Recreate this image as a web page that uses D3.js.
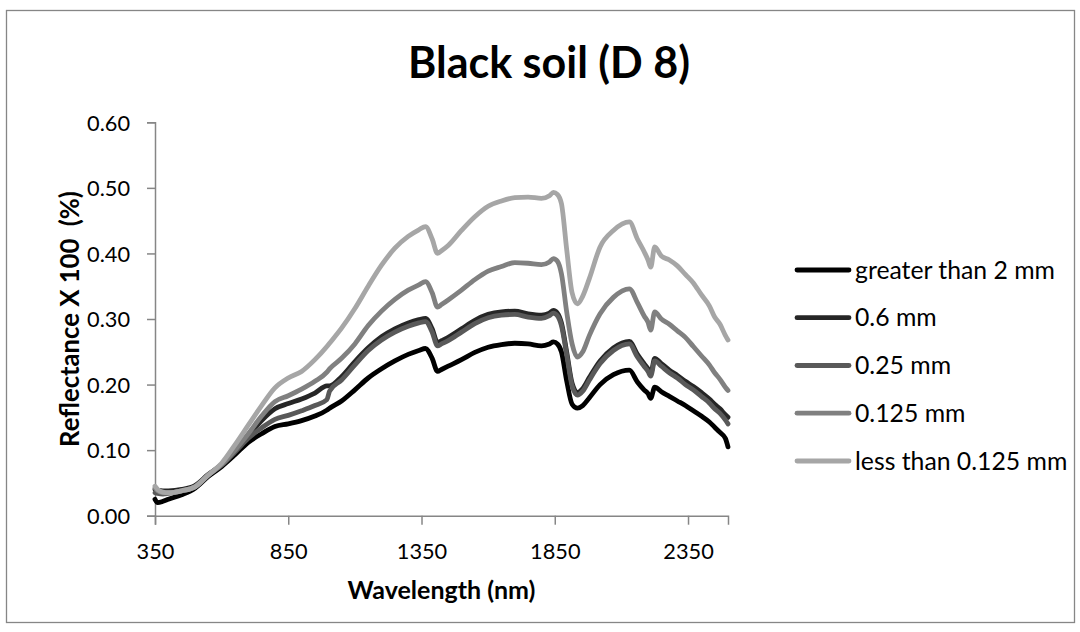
<!DOCTYPE html>
<html>
<head>
<meta charset="utf-8">
<script src="https://cdn.jsdelivr.net/npm/d3@7"></script>
<style>
  html, body { margin: 0; padding: 0; background: #fff; }
  svg { display: block; }
  text { font-family: Lato, "Open Sans", "Liberation Sans", sans-serif; fill: #000; }
</style>
</head>
<body>
<svg id="chart" width="1080" height="632"></svg>
<script>
// ---------- data ----------
const chartTitle = "Black soil (D 8)";
const xTitle = "Wavelength (nm)";
const yTitle = "Reflectance X 100  (%)";
const xTicks = [350, 850, 1350, 1850, 2350];
const yTicks = [0, 0.1, 0.2, 0.3, 0.4, 0.5, 0.6];
const seriesNames = ["greater than 2 mm", "0.6 mm", "0.25 mm", "0.125 mm", "less than 0.125 mm"];
const seriesColors = ["#000000", "#262626", "#595959", "#808080", "#a6a6a6"];

const wavelengths = [
  350, 360, 380, 400, 450,
  500, 550, 600, 650, 700,
  750, 800, 850, 900, 950,
  995, 1005, 1050, 1100, 1150,
  1200, 1250, 1300, 1340, 1365,
  1390, 1410, 1425, 1450, 1500,
  1550, 1600, 1650, 1700, 1750,
  1800, 1830, 1845, 1860, 1875,
  1895, 1915, 1935, 1955, 1980,
  2020, 2070, 2130, 2160, 2185,
  2200, 2210, 2225, 2250, 2280,
  2310, 2340, 2370, 2400, 2430,
  2450, 2470, 2490, 2500
];

const greaterThan2mm = [
  0.025, 0.020, 0.022, 0.025, 0.032,
  0.042, 0.060, 0.075, 0.093, 0.112,
  0.125, 0.136, 0.140, 0.145, 0.152,
  0.161, 0.164, 0.175, 0.192, 0.210,
  0.224, 0.236, 0.246, 0.252, 0.255,
  0.240, 0.220, 0.223, 0.228, 0.238,
  0.249, 0.257, 0.261, 0.263, 0.262,
  0.259, 0.262, 0.265, 0.262, 0.250,
  0.205, 0.170, 0.164, 0.168, 0.180,
  0.200, 0.215, 0.222, 0.204, 0.192,
  0.186, 0.179, 0.196, 0.189, 0.182,
  0.175, 0.168, 0.160, 0.152, 0.143,
  0.135, 0.127, 0.118, 0.105
];

const mm06 = [
  0.040, 0.039, 0.038, 0.038, 0.040,
  0.046, 0.063, 0.078, 0.099, 0.122,
  0.145, 0.163, 0.171, 0.178, 0.187,
  0.198, 0.198, 0.212, 0.235, 0.256,
  0.273, 0.285, 0.294, 0.299, 0.301,
  0.285, 0.264, 0.267, 0.272, 0.285,
  0.298, 0.307, 0.311, 0.312, 0.308,
  0.306, 0.309, 0.313, 0.309, 0.294,
  0.249, 0.202, 0.188, 0.194, 0.211,
  0.236, 0.256, 0.266, 0.246, 0.232,
  0.224, 0.217, 0.240, 0.232, 0.222,
  0.214, 0.205, 0.197, 0.188, 0.178,
  0.170, 0.163, 0.154, 0.150
];

const mm025 = [
  0.035, 0.034, 0.033, 0.034, 0.038,
  0.044, 0.062, 0.077, 0.097, 0.118,
  0.134, 0.147, 0.153, 0.160, 0.168,
  0.177, 0.190, 0.207, 0.230, 0.252,
  0.268, 0.280, 0.289, 0.294, 0.296,
  0.280, 0.259, 0.262, 0.267, 0.280,
  0.293, 0.302, 0.306, 0.307, 0.303,
  0.301, 0.305, 0.309, 0.305, 0.290,
  0.245, 0.198, 0.184, 0.190, 0.207,
  0.232, 0.252, 0.262, 0.242, 0.228,
  0.220, 0.213, 0.236, 0.228, 0.218,
  0.210, 0.200, 0.192, 0.182, 0.172,
  0.163, 0.156, 0.146, 0.140
];

const mm0125 = [
  0.042, 0.038, 0.035, 0.035, 0.038,
  0.044, 0.062, 0.078, 0.100, 0.125,
  0.152, 0.174, 0.183, 0.193, 0.205,
  0.219, 0.224, 0.240, 0.262, 0.290,
  0.312, 0.330, 0.344, 0.352, 0.357,
  0.340, 0.318, 0.322, 0.329, 0.344,
  0.360, 0.373, 0.380, 0.386, 0.385,
  0.383, 0.387, 0.392, 0.388, 0.369,
  0.310, 0.262, 0.242, 0.250, 0.275,
  0.308, 0.333, 0.346, 0.325, 0.305,
  0.295, 0.283, 0.311, 0.300, 0.292,
  0.282, 0.272, 0.258, 0.244, 0.230,
  0.218, 0.208, 0.196, 0.191
];

const lessThan0125 = [
  0.045, 0.040, 0.036, 0.035, 0.038,
  0.044, 0.062, 0.080, 0.108, 0.138,
  0.168, 0.195, 0.210, 0.220, 0.238,
  0.258, 0.263, 0.286, 0.316, 0.350,
  0.382, 0.408, 0.426, 0.436, 0.441,
  0.422, 0.400, 0.404, 0.412, 0.435,
  0.456, 0.472, 0.480, 0.485, 0.486,
  0.484, 0.488, 0.493, 0.490, 0.476,
  0.405, 0.340, 0.323, 0.335, 0.362,
  0.410, 0.435, 0.448, 0.422, 0.403,
  0.390, 0.379, 0.410, 0.396, 0.390,
  0.381, 0.368, 0.355, 0.337, 0.320,
  0.303, 0.292, 0.275, 0.268
];

const seriesValues = [greaterThan2mm, mm06, mm025, mm0125, lessThan0125];

// ---------- layout ----------
const svg = d3.select("#chart");
const plot = { left: 155, right: 728, top: 122.3, bottom: 515.7 };
const axisColor = "#868686";

const x = d3.scaleLinear().domain([350, 2500]).range([plot.left, plot.right]);
const y = d3.scaleLinear().domain([0, 0.6]).range([plot.bottom, plot.top]);

// fit a text element's font size to a target width
function fitWidth(sel, target) {
  sel.attr("font-size", 100);
  const w = sel.node().getComputedTextLength();
  const fs = 100 * target / w;
  sel.attr("font-size", fs);
  return fs;
}

// chart border
svg.append("rect")
  .attr("x", 6.5).attr("y", 10.5)
  .attr("width", 1068).attr("height", 612)
  .attr("fill", "none").attr("stroke", axisColor).attr("stroke-width", 1.3);

// title
const t = svg.append("text")
  .attr("x", 549).attr("y", 78)
  .attr("text-anchor", "middle")
  .attr("font-weight", "bold")
  .text(chartTitle);
fitWidth(t, 282);

// measure tick font size
const probe = svg.append("text").text("0.60");
const tickFs = fitWidth(probe, 43);
probe.remove();

// axes
const yAxis = d3.axisLeft(y).tickValues(yTicks).tickFormat(d3.format(".2f")).tickSize(8).tickPadding(17);
const xAxis = d3.axisBottom(x).tickValues(xTicks).tickFormat(d3.format("d")).tickSize(9).tickPadding(19);

const gy = svg.append("g").attr("transform", `translate(${plot.left},0)`).call(yAxis);
const gx = svg.append("g").attr("transform", `translate(0,${plot.bottom})`).call(xAxis);
[gx, gy].forEach(g => {
  g.select(".domain").attr("stroke", axisColor).attr("stroke-width", 1.5);
  g.selectAll(".tick line").attr("stroke", axisColor).attr("stroke-width", 1.5);
  g.selectAll(".tick text")
    .attr("font-family", "Lato, 'Open Sans', sans-serif")
    .attr("font-size", tickFs).attr("fill", "#000");
});
gy.selectAll(".tick text").attr("dy", "0.36em");

// axis titles
const xt = svg.append("text")
  .attr("x", (plot.left + plot.right) / 2).attr("y", 599)
  .attr("text-anchor", "middle").attr("font-weight", "bold")
  .text(xTitle);
fitWidth(xt, 188);

const yt = svg.append("text")
  .attr("transform", `translate(79,${(plot.top + plot.bottom) / 2}) rotate(-90)`)
  .attr("text-anchor", "middle").attr("font-weight", "bold")
  .style("white-space", "pre")
  .text(yTitle);
fitWidth(yt, 256);

// lines
const line = d3.line()
  .x(d => x(d[0]))
  .y(d => y(d[1]))
  .curve(d3.curveMonotoneX);

seriesValues.forEach((vals, i) => {
  const pts = wavelengths.map((w, j) => [w, vals[j]]);
  svg.append("path")
    .datum(pts)
    .attr("d", line)
    .attr("fill", "none")
    .attr("stroke", seriesColors[i])
    .attr("stroke-width", 4.8)
    .attr("stroke-linejoin", "round")
    .attr("stroke-linecap", "round");
});

// legend
const legendRows = [270, 317.7, 365.5, 413.2, 461];
let legFs = null;
const lg = svg.append("g");
seriesNames.forEach((name, i) => {
  const yy = legendRows[i];
  lg.append("line")
    .attr("x1", 797).attr("x2", 849)
    .attr("y1", yy).attr("y2", yy)
    .attr("stroke", seriesColors[i]).attr("stroke-width", 4.8)
    .attr("stroke-linecap", "round");
  const tx = lg.append("text")
    .attr("x", 855).attr("y", yy).attr("dy", "0.35em")
    .text(name);
  if (i === 0) legFs = fitWidth(tx, 200);
  else tx.attr("font-size", legFs);
});
</script>
</body>
</html>
